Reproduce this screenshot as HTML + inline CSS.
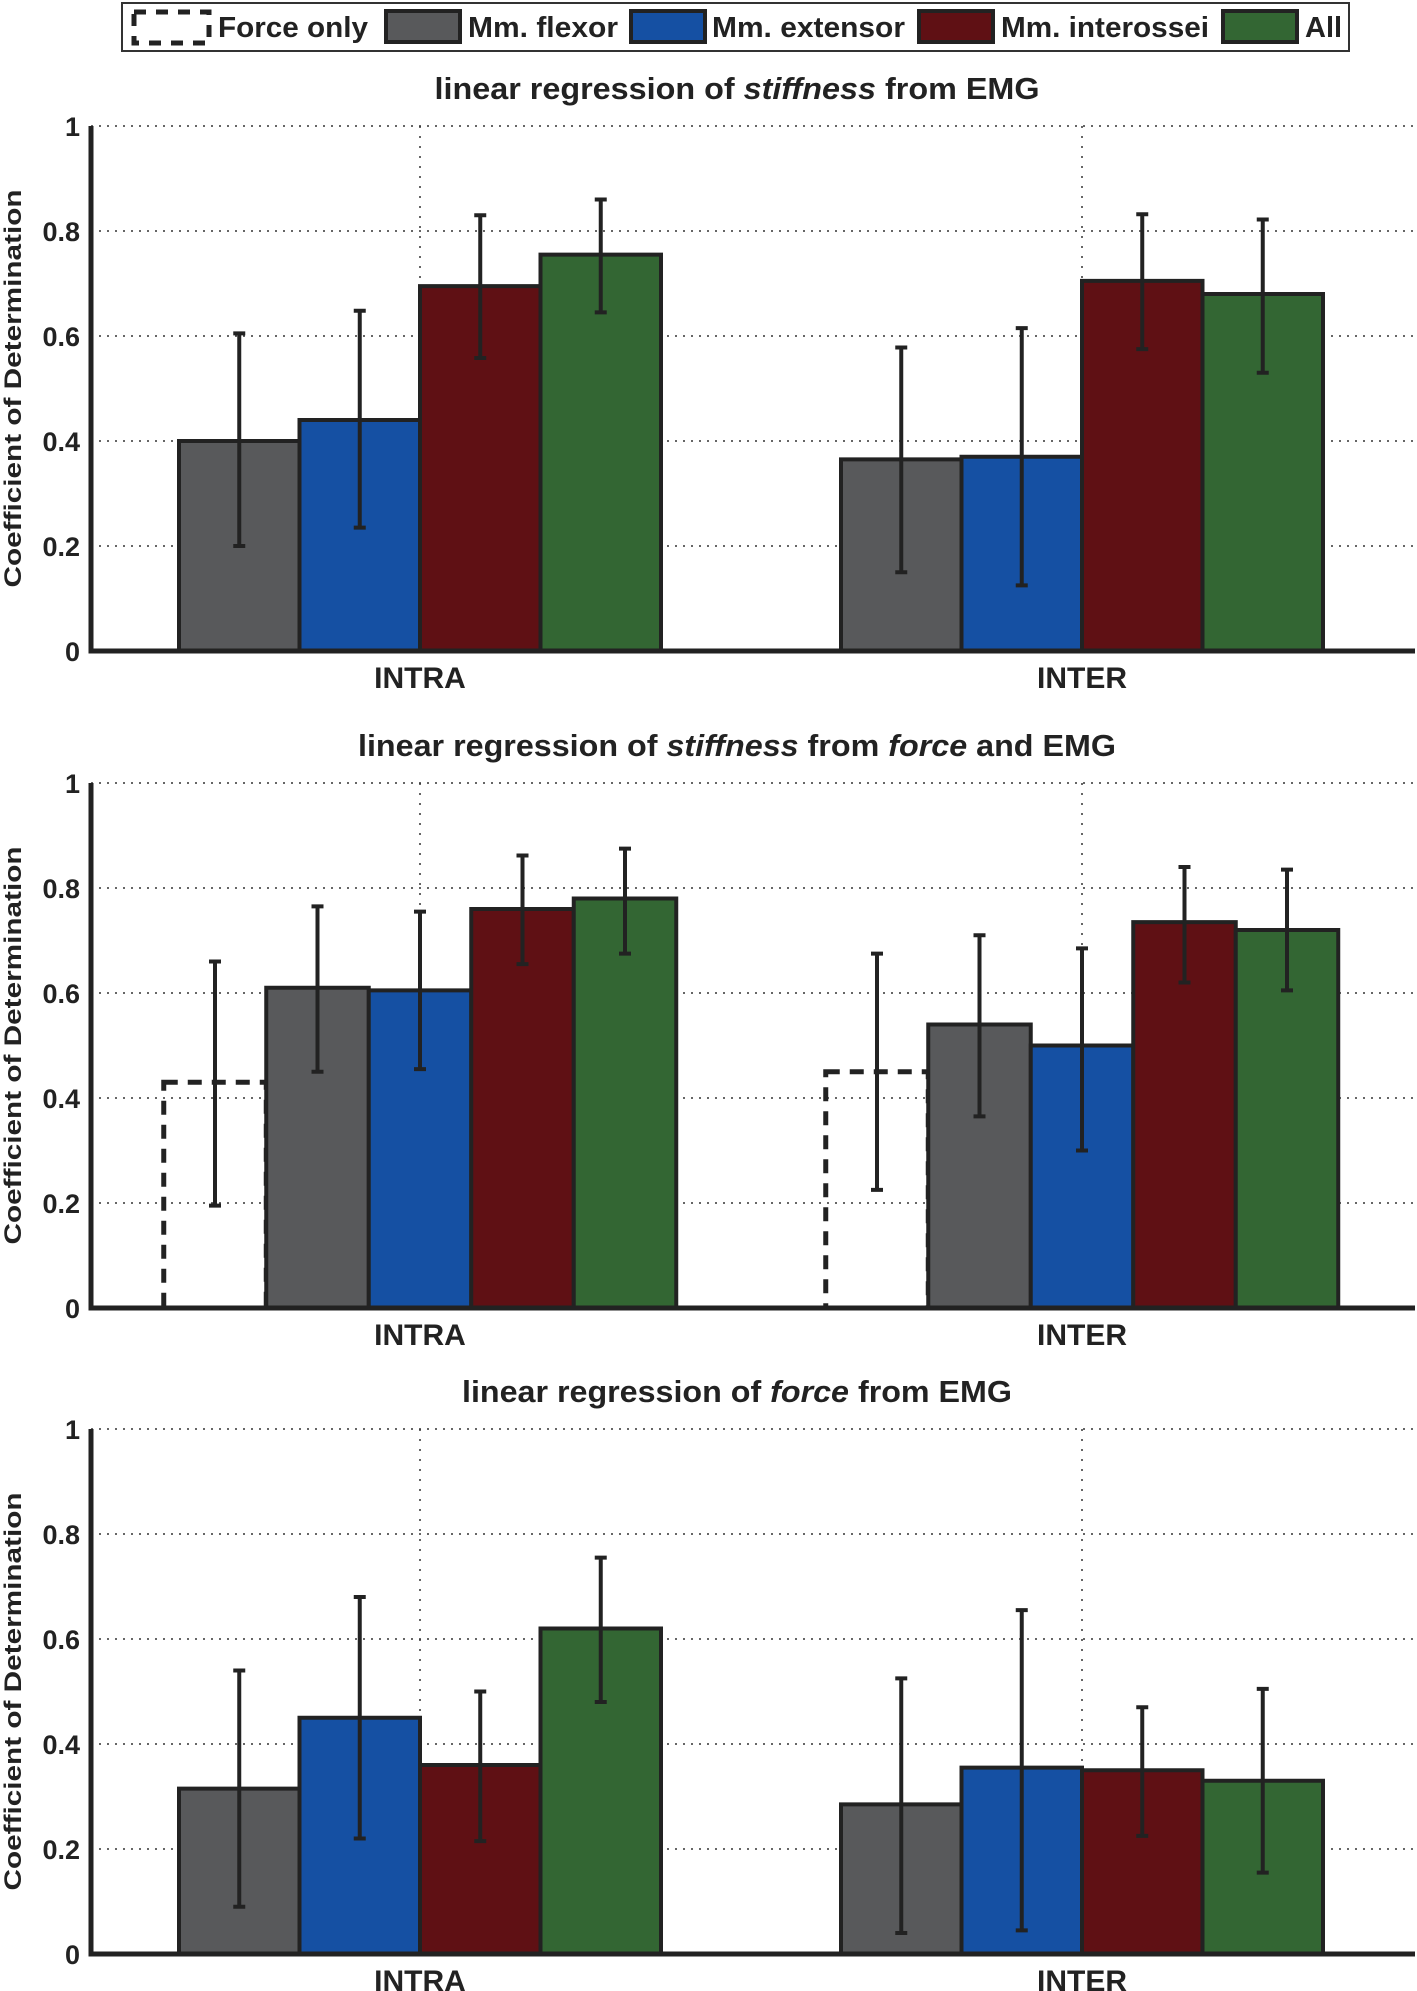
<!DOCTYPE html>
<html><head><meta charset="utf-8"><style>
html,body{margin:0;padding:0;background:#fff}
svg{display:block;font-family:"Liberation Sans",sans-serif}
</style></head><body>
<svg id="fig" width="1417" height="1991" viewBox="0 0 1417 1991">
<g id="legend">
<rect x="122" y="3" width="1227" height="48" fill="#fff" stroke="#333" stroke-width="2"/>
<rect x="134" y="12" width="75" height="31" fill="none" stroke="#222" stroke-width="5" stroke-dasharray="12,10"/>
<text x="218" y="37" font-size="29" font-weight="bold" fill="#222" textLength="150" lengthAdjust="spacingAndGlyphs">Force only</text>
<rect x="386" y="11" width="74" height="31" fill="#58595b" stroke="#222" stroke-width="4"/>
<text x="468" y="37" font-size="29" font-weight="bold" fill="#222" textLength="150" lengthAdjust="spacingAndGlyphs">Mm. flexor</text>
<rect x="631" y="11" width="74" height="31" fill="#1550a3" stroke="#222" stroke-width="4"/>
<text x="712" y="37" font-size="29" font-weight="bold" fill="#222" textLength="193" lengthAdjust="spacingAndGlyphs">Mm. extensor</text>
<rect x="919" y="11" width="74" height="31" fill="#5f1014" stroke="#222" stroke-width="4"/>
<text x="1001" y="37" font-size="29" font-weight="bold" fill="#222" textLength="208" lengthAdjust="spacingAndGlyphs">Mm. interossei</text>
<rect x="1223" y="11" width="74" height="31" fill="#336633" stroke="#222" stroke-width="4"/>
<text x="1305" y="37" font-size="29" font-weight="bold" fill="#222">All</text>
</g>
</svg>
<script>
// ---- data ----
const groups = ["INTRA", "INTER"];
const yTicks = [0, 0.2, 0.4, 0.6, 0.8, 1];
const yTickLabels = ["0", "0.2", "0.4", "0.6", "0.8", "1"];
const seriesNames = ["flexor", "extensor", "interossei", "all"];
const seriesNames2 = ["force-only", "flexor", "extensor", "interossei", "all"];
// chart 1: stiffness from EMG
const c1Values = [[0.40, 0.44, 0.695, 0.755], [0.365, 0.37, 0.705, 0.68]];
const c1Low = [[0.20, 0.235, 0.558, 0.645], [0.15, 0.125, 0.575, 0.53]];
const c1High = [[0.605, 0.648, 0.83, 0.86], [0.578, 0.615, 0.832, 0.822]];
// chart 2: stiffness from force and EMG
const c2Values = [[0.43, 0.61, 0.605, 0.76, 0.78], [0.45, 0.54, 0.50, 0.735, 0.72]];
const c2Low = [[0.195, 0.45, 0.455, 0.655, 0.675], [0.225, 0.365, 0.30, 0.62, 0.605]];
const c2High = [[0.66, 0.765, 0.755, 0.862, 0.875], [0.675, 0.71, 0.685, 0.84, 0.835]];
// chart 3: force from EMG
const c3Values = [[0.315, 0.45, 0.36, 0.62], [0.285, 0.355, 0.35, 0.33]];
const c3Low = [[0.09, 0.22, 0.215, 0.48], [0.04, 0.045, 0.225, 0.155]];
const c3High = [[0.54, 0.68, 0.50, 0.755], [0.525, 0.655, 0.47, 0.505]];

const NS = "http://www.w3.org/2000/svg";
const svg = document.getElementById("fig");
const fills = {"force-only": "none", flexor: "#58595b", extensor: "#1550a3", interossei: "#5f1014", all: "#336633"};
function mk(tag, attrs, parent) {
  const e = document.createElementNS(NS, tag);
  for (const k in attrs) e.setAttribute(k, attrs[k]);
  (parent || svg).appendChild(e);
  return e;
}
const X0 = 91, X1 = 1415;
const centers = [420, 1082];

function chart(idx, top, bottom, titleParts, titleLen, names, vals, lo, hi, barW) {
  const g = mk("g", {});
  
  
  const y = v => bottom - v * (bottom - top);
  const t = mk("text", {x: 737, y: top - 27, "text-anchor": "middle", "font-size": 31, "font-weight": "bold", fill: "#222", textLength: titleLen, lengthAdjust: "spacingAndGlyphs"}, g);
  
  
  titleParts.forEach(p => { const s = mk("tspan", p[1] ? {"font-style": "italic"} : {}, t); s.textContent = p[0]; });
  yTicks.forEach((v, i) => {
    if (v > 0) {
      const l = mk("line", {x1: X0, x2: X1, y1: y(v), y2: y(v), stroke: "#333", "stroke-width": 1.5, "stroke-dasharray": "2,6"}, g);
      
      
    }
    const tl = mk("text", {x: 80, y: y(v) + 10, "text-anchor": "end", "font-size": 27, "font-weight": "bold", fill: "#222"}, g);
    
    
    tl.textContent = yTickLabels[i];
  });
  centers.forEach(cx => {
    const l = mk("line", {x1: cx, x2: cx, y1: top, y2: bottom, stroke: "#333", "stroke-width": 1.5, "stroke-dasharray": "2,8"}, g);
    
    
  });
  groups.forEach((gn, gi) => {
    const n = names.length;
    names.forEach((sn, si) => {
      const bx = centers[gi] - (n / 2) * barW + si * barW;
      const by = y(vals[gi][si]);
      const attrs = {x: bx, y: by, width: barW, height: bottom - by, fill: fills[sn], stroke: "#222", "stroke-width": sn === "force-only" ? 5 : 4};
      if (sn === "force-only") attrs["stroke-dasharray"] = "14,10";
      const r = mk("rect", attrs, g);
      
      
      const cx = bx + barW / 2;
      const e = mk("path", {d: `M${cx},${y(lo[gi][si])}V${y(hi[gi][si])}M${cx-6},${y(lo[gi][si])}H${cx+6}M${cx-6},${y(hi[gi][si])}H${cx+6}`, stroke: "#222", "stroke-width": 4, fill: "none"}, g);
      
      
    });
    const xl = mk("text", {x: centers[gi], y: bottom + 37, "text-anchor": "middle", "font-size": 30, "font-weight": "bold", fill: "#222"}, g);
    
    
    xl.textContent = gn;
  });
  const ax = mk("path", {d: `M${X0},${top}V${bottom}H${X1}`, stroke: "#222", "stroke-width": 5, fill: "none"}, g);
  
  
  const yt = mk("text", {transform: `translate(21,${(top + bottom) / 2}) rotate(-90)`, "text-anchor": "middle", "font-size": 24, "font-weight": "bold", fill: "#222", textLength: 398, lengthAdjust: "spacingAndGlyphs"}, g);
  
  
  yt.textContent = "Coefficient of Determination";
}
chart(1, 126, 651, [["linear regression of "], ["stiffness", true], [" from EMG"]], 605, seriesNames, c1Values, c1Low, c1High, 120.5);
chart(2, 783, 1308, [["linear regression of "], ["stiffness", true], [" from "], ["force", true], [" and EMG"]], 758, seriesNames2, c2Values, c2Low, c2High, 102.5);
chart(3, 1429, 1954, [["linear regression of "], ["force", true], [" from EMG"]], 550, seriesNames, c3Values, c3Low, c3High, 120.5);
</script>
</body></html>
